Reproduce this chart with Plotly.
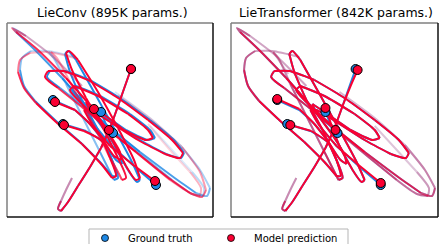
import plotly.graph_objects as go

W, H = 441, 244
TITLES = ["LieConv (895K params.)", "LieTransformer (842K params.)"]
LEGEND_LABELS = ["Ground truth", "Model prediction"]
BLUE = "#1e88e5"
RED = "#fa0032"

# Trajectories (x, y) in panel units, y grows downward; oldest -> newest
gt_A = [(72,178),(66,190),(61,201),(58,209),(61,211),(68,202),(78,186),(90,167),(101,148),(110,128),(118,106),(125,86),(131,69)]
gt_B = [(150,126),(172,150),(192,172),(204,188),(203,196),(192,194),(172,180),(145,158),(115,133),(85,108),(60,88),(47,77),(50,71),(65,71),(90,80),(120,98),(150,120),(174,140),(184,153),(181,158),(166,154),(140,140),(112,122),(92,110),(86,110),(94,124),(112,146),(134,166),(156,185)]
gt_C = [(82,86),(52,56),(26,36),(13,28),(16,32),(35,50),(62,78),(88,108),(108,135),(120,155),(122,164),(116,160),(104,142),(90,124),(75,110),(53,100)]
gt_D = [(75,57),(48,51),(31,51),(22,58),(20,70),(24,86),(35,101),(55,120),(80,142),(100,162),(112,176),(116,176),(112,160),(104,143),(86,131),(63,124)]
gt_E = [(64,74),(51,55),(49,52),(54,58),(66,84),(84,120),(100,152),(110,172),(114,180),(118,178),(112,160),(98,130),(82,100),(70,72),(65,54),(68,51),(76,60),(94,92),(115,130),(132,162),(140,180),(137,182),(128,170),(116,148),(101,112)]
gt_F = [(115,92),(150,118),(180,145),(200,170),(210,188),(207,196),(196,193),(172,176),(140,152),(108,126),(84,104),(72,90),(76,86),(100,96),(130,114),(150,130),(155,138),(148,140),(126,130),(100,112),(88,104),(92,112),(113,133)]

lc_A = [(72,178),(66,190),(61,201),(58,209),(61,211),(68,202),(78,186),(90,167),(101,148),(110,128),(118,106),(125,86),(131,69)]
lc_B = [(148,124),(170,150),(190,172),(201,188),(200,196),(190,193),(170,180),(143,158),(113,133),(83,108),(58,88),(45,77),(48,71),(63,71),(88,80),(118,98),(148,120),(172,140),(183,153),(180,158),(165,154),(138,140),(110,122),(90,110),(84,110),(92,124),(110,146),(132,164),(155,181)]
lc_C = [(82,86),(52,56),(26,36),(12,28),(16,32),(38,50),(66,78),(92,108),(110,135),(120,152),(121,160),(114,156),(102,138),(88,122),(75,110),(55,102)]
lc_D = [(75,58),(48,52),(30,53),(20,60),(18,72),(24,88),(36,103),(56,122),(82,144),(102,165),(112,178),(116,176),(110,158),(102,141),(84,131),(64,125)]
lc_E = [(66,74),(54,56),(51,52),(57,58),(72,86),(92,122),(108,154),(118,172),(122,180),(126,178),(118,158),(102,126),(86,98),(72,70),(66,53),(69,51),(78,60),(98,92),(118,128),(134,160),(140,178),(136,180),(126,166),(112,140),(94,109)]
lc_F = [(118,95),(152,120),(182,147),(200,172),(206,190),(202,197),(190,193),(166,176),(136,152),(104,126),(82,104),(70,90),(74,86),(98,96),(128,114),(148,130),(153,138),(146,140),(124,130),(98,110),(86,102),(90,110),(109,130)]

lt_A = [(72,178),(66,190),(61,201),(58,209),(61,211),(68,202),(78,186),(90,167),(101,148),(110,128),(118,106),(126,86),(133,70)]
lt_B = [(150,126),(172,150),(192,172),(204,188),(203,196),(192,194),(172,180),(145,158),(115,133),(85,108),(60,88),(47,77),(50,71),(65,71),(90,80),(120,98),(150,120),(174,140),(184,153),(181,158),(166,154),(140,140),(112,122),(92,110),(86,110),(94,124),(112,146),(134,165),(156,183)]
lt_C = [(82,86),(52,56),(26,36),(13,28),(16,32),(35,50),(62,78),(88,108),(108,135),(120,155),(122,164),(116,160),(104,142),(90,124),(75,109),(53,99)]
lt_D = [(75,57),(48,51),(31,51),(22,58),(20,70),(24,86),(35,101),(55,120),(80,142),(100,162),(112,176),(116,176),(112,160),(104,143),(87,131),(66,125)]
lt_E = [(64,74),(51,55),(49,52),(54,58),(66,84),(84,120),(100,152),(110,172),(114,180),(118,178),(112,160),(98,130),(82,100),(70,72),(65,54),(68,51),(76,60),(94,92),(115,130),(132,162),(140,180),(137,182),(128,170),(115,146),(101,108)]
lt_F = [(115,92),(150,118),(180,145),(200,170),(210,188),(207,196),(196,193),(172,176),(140,152),(108,126),(84,104),(72,90),(76,86),(100,96),(130,114),(150,130),(155,138),(148,140),(126,130),(100,112),(88,104),(91,111),(111,130)]

gt_all = [gt_A, gt_B, gt_C, gt_D, gt_E, gt_F]
pred_panels = [[lc_A, lc_B, lc_C, lc_D, lc_E, lc_F], [lt_A, lt_B, lt_C, lt_D, lt_E, lt_F]]

fig = go.Figure()

def add_traj(pts, color, xa, ya, chunk=3):
    n = len(pts)
    segs = []
    i = 0
    while i < n - 1:
        j = min(i + chunk - 1, n - 1)
        segs.append((i, j))
        i = j
    m = len(segs)
    for k, (a, b) in enumerate(segs):
        op = min(1.0, 0.06 + 2.5 * ((k + 1) / m) ** 1.2)
        fig.add_trace(go.Scatter(
            x=[p[0] for p in pts[a:b + 1]], y=[p[1] for p in pts[a:b + 1]],
            mode="lines", line=dict(color=color, width=2, shape="spline", smoothing=0.7),
            opacity=op, xaxis=xa, yaxis=ya, showlegend=False, hoverinfo="skip"))

axes = [("x", "y"), ("x2", "y2")]
for p, (xa, ya) in enumerate(axes):
    for traj in gt_all:
        add_traj(traj, BLUE, xa, ya)
    for traj in pred_panels[p]:
        add_traj(traj, RED, xa, ya)
    fig.add_trace(go.Scatter(x=[t[-1][0] for t in gt_all], y=[t[-1][1] for t in gt_all], mode="markers",
                             marker=dict(color=BLUE, size=9, line=dict(color="black", width=1)),
                             xaxis=xa, yaxis=ya, showlegend=False, hoverinfo="skip"))
    fig.add_trace(go.Scatter(x=[t[-1][0] for t in pred_panels[p]], y=[t[-1][1] for t in pred_panels[p]], mode="markers",
                             marker=dict(color=RED, size=9, line=dict(color="black", width=1)),
                             xaxis=xa, yaxis=ya, showlegend=False, hoverinfo="skip"))

fig.add_trace(go.Scatter(x=[105, 231], y=[238, 238], mode="markers",
                         marker=dict(color=[BLUE, RED], size=7, line=dict(color="black", width=0.8)),
                         xaxis="x3", yaxis="y3", showlegend=False, hoverinfo="skip"))

ydom = [1 - 217 / H, 1 - 23 / H]
fig.update_layout(
    width=W, height=H, margin=dict(l=0, r=0, t=0, b=0),
    paper_bgcolor="white", plot_bgcolor="rgba(0,0,0,0)",
    xaxis=dict(domain=[7 / W, 213 / W], range=[7, 213], visible=False, anchor="y"),
    yaxis=dict(domain=ydom, range=[217, 23], visible=False, anchor="x"),
    xaxis2=dict(domain=[231 / W, 438 / W], range=[7, 213], visible=False, anchor="y2"),
    yaxis2=dict(domain=ydom, range=[217, 23], visible=False, anchor="x2"),
    xaxis3=dict(domain=[0, 1], range=[0, W], visible=False, anchor="y3"),
    yaxis3=dict(domain=[0, 1], range=[H, 0], visible=False, anchor="x3"),
    showlegend=False,
)

shapes = []
for (x0, x1) in [(7, 213), (231, 438)]:
    shapes.append(dict(type="line", xref="x3", yref="y3", x0=x0, x1=x1, y0=23, y1=23, line=dict(color="#7f7f7f", width=1.5)))
    shapes.append(dict(type="line", xref="x3", yref="y3", x0=x0, x1=x0, y0=23, y1=217, line=dict(color="#7f7f7f", width=1.5)))
    shapes.append(dict(type="line", xref="x3", yref="y3", x0=x0, x1=x1, y0=217, y1=217, line=dict(color="#111111", width=1.5)))
    shapes.append(dict(type="line", xref="x3", yref="y3", x0=x1, x1=x1, y0=23, y1=217, line=dict(color="#111111", width=1.5)))
shapes.append(dict(type="rect", xref="x3", yref="y3", x0=89, x1=348, y0=229, y1=250,
                   line=dict(color="#b5b5b5", width=1), fillcolor="rgba(0,0,0,0)"))
fig.update_layout(shapes=shapes)

font = "DejaVu Sans"
ann = [
    dict(x=112, y=12, text=TITLES[0], font=dict(family=font, size=12.5, color="black")),
    dict(x=336, y=12, text=TITLES[1], font=dict(family=font, size=12.5, color="black")),
    dict(x=126, y=238, text=LEGEND_LABELS[0], xanchor="left", font=dict(family=font, size=10, color="black")),
    dict(x=252, y=238, text=LEGEND_LABELS[1], xanchor="left", font=dict(family=font, size=10, color="black")),
]
for a in ann:
    a.update(xref="x3", yref="y3", showarrow=False, yanchor="middle")
    a.setdefault("xanchor", "center")
fig.update_layout(annotations=ann)

fig.write_html("out.html", config={"displayModeBar": False, "staticPlot": True},
               post_script="document.body.style.margin='0';document.body.style.padding='0';document.body.style.overflow='hidden';")
